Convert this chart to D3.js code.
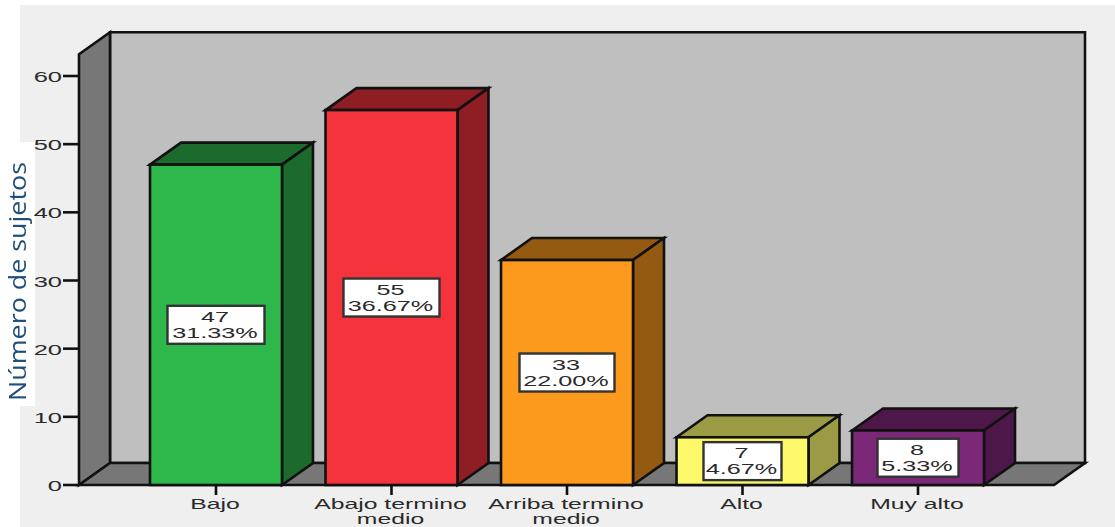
<!DOCTYPE html>
<html><head><meta charset="utf-8"><script src="https://cdn.jsdelivr.net/npm/d3@7"></script>
<style>html,body{margin:0;padding:0;background:#fff;overflow:hidden}svg{display:block;filter:blur(0.55px)}</style></head>
<body><svg id="c" width="1115" height="527"></svg>
<script>
const categories=["Bajo","Abajo termino|medio","Arriba termino|medio","Alto","Muy alto"];
const counts=[47,55,33,7,8];
const percents=["31.33%","36.67%","22.00%","4.67%","5.33%"];
const frontColors=["#2eb84b","#f4333c","#fb9a1c","#fdf96a","#7b2878"];
const darkColors=["#1c6b2c","#8e1e23","#945a12","#9b9a45","#4d1849"];
const yTicks=[0,10,20,30,40,50,60];
const boxWidths=[97,96,95,78,81];

const svg=d3.select("#c");
const y=d3.scaleLinear().domain([0,60]).range([485,76]);
const x=d3.scaleBand().domain(categories).range([150,984]).paddingInner(0.248).paddingOuter(0);
const dx=31,dy=22,L=79,Rf=1054,top0=y(63.2),stroke="#111";
const ln=d=>"M"+d.map(p=>p.join(",")).join("L")+"Z";
const ink="#2a2a2a",sw=2.6;

svg.append("rect").attr("x",20).attr("y",5).attr("width",1095).attr("height",522).attr("fill","#efefef");
svg.append("rect").attr("x",0).attr("y",142).attr("width",35).attr("height",264).attr("fill","#fff");

// walls
svg.append("path").attr("d",ln([[L+dx,top0-dy],[Rf+dx,top0-dy],[Rf+dx,y(0)-dy],[L+dx,y(0)-dy]])).attr("fill","#bfbfbf").attr("stroke",stroke).attr("stroke-width",sw);
svg.append("path").attr("d",ln([[L,top0],[L+dx,top0-dy],[L+dx,y(0)-dy],[L,y(0)]])).attr("fill","#777").attr("stroke",stroke).attr("stroke-width",sw);
svg.append("path").attr("d",ln([[L,y(0)],[L+dx,y(0)-dy],[Rf+dx,y(0)-dy],[Rf,y(0)]])).attr("fill","#777").attr("stroke",stroke).attr("stroke-width",sw);

// y axis
const yAxis=svg.append("g");
yTicks.forEach(t=>{
  yAxis.append("line").attr("x1",63).attr("x2",L).attr("y1",y(t)).attr("y2",y(t)).attr("stroke",stroke).attr("stroke-width",sw);
  yAxis.append("text").attr("transform",`translate(62,${y(t)+6}) scale(1.7,1)`).attr("text-anchor","end")
    .attr("font-family","Liberation Sans").attr("font-size",15).attr("fill",ink).text(t);
});

// bars
const bars=svg.selectAll("g.b").data(counts).join("g").attr("class","b");
bars.each(function(v,i){
  const g=d3.select(this),c=categories[i],a=x(c),b=a+x.bandwidth(),t=y(v),z=y(0);
  g.append("path").attr("d",ln([[a,t],[a+dx,t-dy],[b+dx,t-dy],[b,t]])).attr("fill",darkColors[i]).attr("stroke",stroke).attr("stroke-width",sw);
  g.append("path").attr("d",ln([[b,t],[b+dx,t-dy],[b+dx,z-dy],[b,z]])).attr("fill",darkColors[i]).attr("stroke",stroke).attr("stroke-width",sw);
  g.append("rect").attr("x",a).attr("y",t).attr("width",b-a).attr("height",z-t).attr("fill",frontColors[i]).attr("stroke",stroke).attr("stroke-width",sw);
  const cx=(a+b)/2,cy=(t+z)/2,w=boxWidths[i];
  g.append("rect").attr("x",cx-w/2).attr("y",cy-19).attr("width",w).attr("height",38).attr("fill","#fff").attr("stroke","#333").attr("stroke-width",2.4);
  [[String(v),cy-3],[percents[i],cy+13]].forEach(([s,yy])=>{
    g.append("text").attr("transform",`translate(${cx-1},${yy}) scale(1.68,1)`).attr("text-anchor","middle")
      .attr("font-family","Liberation Sans").attr("font-size",15).attr("fill",ink).text(s);
  });
  g.append("line").attr("x1",cx).attr("x2",cx).attr("y1",z).attr("y2",z+10).attr("stroke",stroke).attr("stroke-width",sw);
  c.split("|").forEach((s,k)=>{
    g.append("text").attr("transform",`translate(${cx-1},${509+k*15}) scale(1.65,1)`).attr("text-anchor","middle")
      .attr("font-family","Liberation Sans").attr("font-size",15).attr("fill",ink).text(s);
  });
});

svg.append("text").attr("transform","translate(26,401) rotate(-90) scale(1.12,1)").attr("font-family","Open Sans").attr("font-size",24).attr("fill","#1f4e79").text("Número de sujetos");
</script></body></html>
